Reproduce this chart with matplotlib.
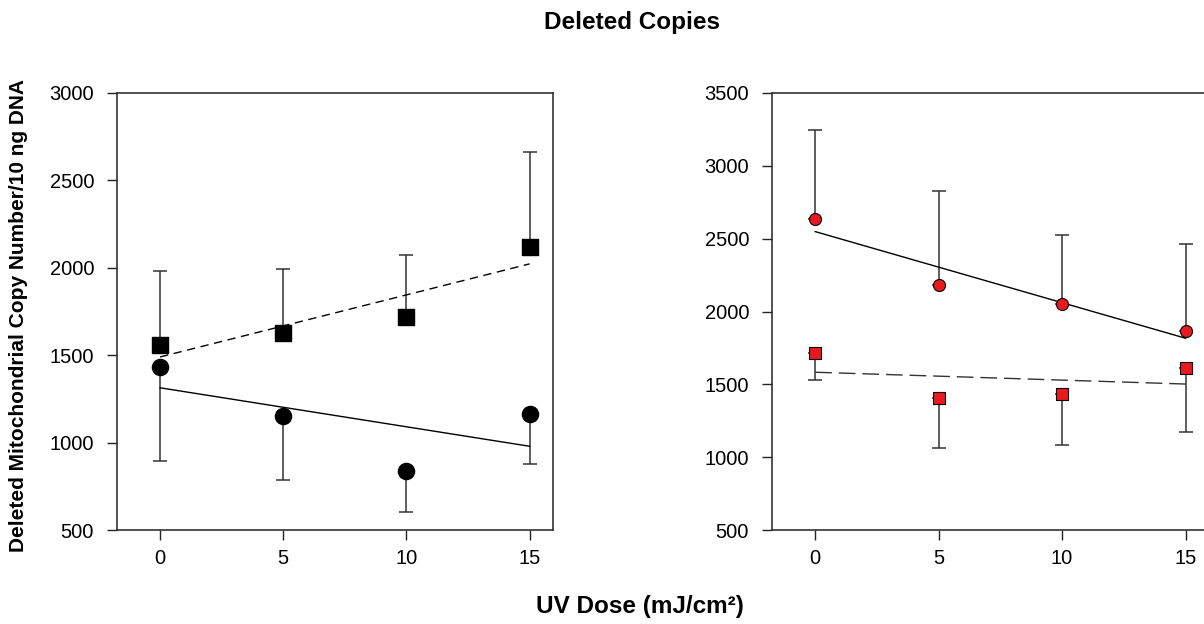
import numpy as np
import matplotlib
matplotlib.use('Agg')
import matplotlib.pyplot as plt

plt.rcParams['font.family'] = ['Liberation Sans', 'DejaVu Sans']

dose = [0, 5, 10, 15]

# left panel (black)
left_sq = [1560, 1625, 1720, 2120]
left_sq_err = [420, 370, 355, 545]      # upper bars only
left_ci = [1430, 1155, 835, 1165]
left_ci_err = [535, 370, 230, 285]      # lower bars only

# right panel (red)
right_ci = [2635, 2180, 2050, 1865]
right_ci_err = [610, 645, 475, 600]     # upper bars only
right_sq = [1715, 1405, 1435, 1615]
right_sq_err = [185, 340, 350, 440]     # lower bars only

W, H = 1204, 624
fig = plt.figure(figsize=(W / 100, H / 100), dpi=100)

ax1 = fig.add_axes([117 / W, (H - 530) / H, (553 - 117) / W, (530 - 93) / H])
ax2 = fig.add_axes([772 / W, (H - 530) / H, (1209 - 772) / W, (530 - 93) / H])

x = np.array(dose)
xl = np.array([0, 15])
err_kw = dict(fmt='none', ecolor='#333333', elinewidth=1.1, capsize=5, capthick=1.1)


def trend(ax, y, ls, color='black', dashes=None):
    p = np.polyfit(x, y, 1)
    line, = ax.plot(xl, np.polyval(p, xl), color=color, lw=1.0, ls=ls, zorder=2)
    if dashes:
        line.set_dashes(dashes)


# left
ax1.errorbar(x, left_sq, yerr=[np.zeros(4), left_sq_err], **err_kw, zorder=1)
ax1.errorbar(x, left_ci, yerr=[left_ci_err, np.zeros(4)], **err_kw, zorder=1)
trend(ax1, left_sq, '--', dashes=(6, 4))
trend(ax1, left_ci, '-')
ax1.scatter(x, left_sq, marker='s', s=135, color='black', zorder=3)
ax1.scatter(x, left_ci, marker='o', s=135, color='black', zorder=3)
ax1.set_ylim(500, 3000)
ax1.set_yticks([500, 1000, 1500, 2000, 2500, 3000])

# right
ax2.errorbar(x, right_ci, yerr=[np.zeros(4), right_ci_err], **err_kw, zorder=1)
ax2.errorbar(x, right_sq, yerr=[right_sq_err, np.zeros(4)], **err_kw, zorder=1)
trend(ax2, right_ci, '-')
trend(ax2, right_sq, '--', color='#333333', dashes=(12, 5))
ax2.scatter(x, right_ci, marker='o', s=75, color='#e8191f', edgecolor='black',
            linewidth=0.8, zorder=3)
ax2.scatter(x, right_sq, marker='s', s=65, color='#e8191f', edgecolor='black',
            linewidth=0.8, zorder=3)
ax2.set_ylim(500, 3500)
ax2.set_yticks([500, 1000, 1500, 2000, 2500, 3000, 3500])

for ax in (ax1, ax2):
    ax.set_xlim(-1.75, 15.95)
    ax.set_xticks(dose)
    ax.tick_params(direction='out', length=7.5, width=1, colors='#222222',
                   labelsize=14.5, labelcolor='black')
    ax.tick_params(axis='y', pad=9)
    ax.tick_params(axis='x', pad=6)
    for sp in ax.spines.values():
        sp.set_color('#333333')
        sp.set_linewidth(1.2)

fig.text(632 / W, 1 - 22 / H, 'Deleted Copies', ha='center', va='center',
         fontsize=17.5, fontweight='bold')
fig.text(640 / W, 1 - 607 / H, 'UV Dose (mJ/cm²)', ha='center',
         va='center', fontsize=17.5, fontweight='bold')
fig.text(19 / W, 1 - 316 / H, 'Deleted Mitochondrial Copy Number/10 ng DNA',
         ha='center', va='center', rotation=90, fontsize=15, fontweight='bold')

fig.savefig('out.png', dpi=100)
